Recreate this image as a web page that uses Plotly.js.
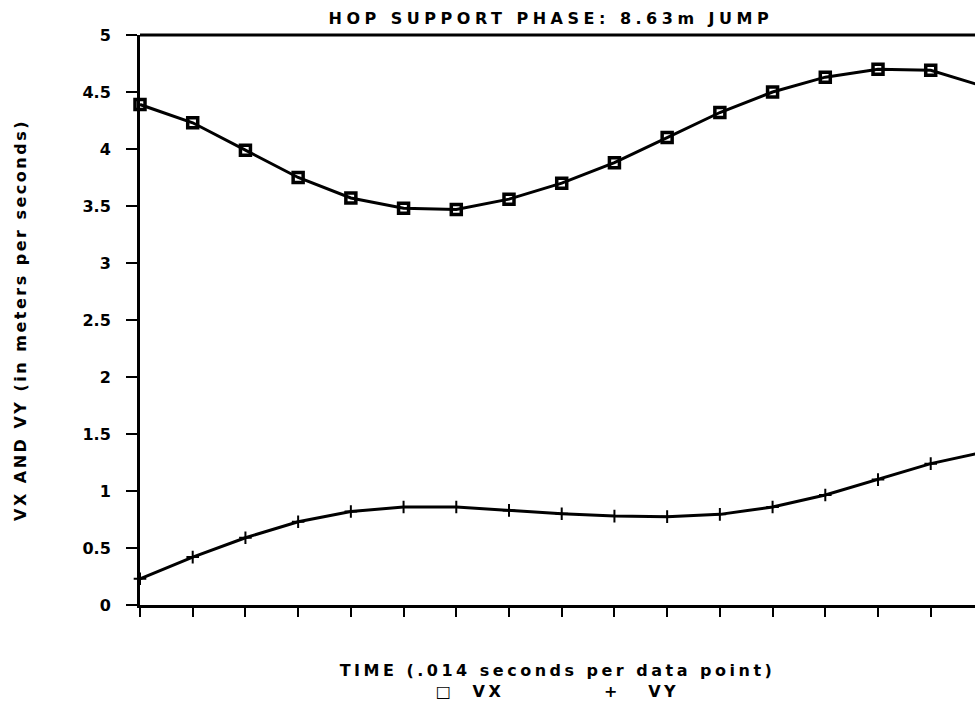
<!DOCTYPE html>
<html>
<head>
<meta charset="utf-8">
<script src="https://cdn.plot.ly/plotly-3.0.1.min.js"></script>
<style>
  html, body { margin: 0; padding: 0; background: #fff; overflow: hidden; }
  #chart { width: 975px; height: 703px; }
  .gtitle { letter-spacing: 4.5px; }
  .g-xtitle text { letter-spacing: 3.5px; }
  .g-ytitle text { letter-spacing: 2.5px; }
</style>
</head>
<body>
<div id="chart"></div>
<script>
// Data point index (each point = .014 s)
const dataPoint = [0, 1, 2, 3, 4, 5, 6, 7, 8, 9, 10, 11, 12, 13, 14, 15, 16];
// Horizontal velocity VX (m/s)
const vx = [4.39, 4.23, 3.99, 3.75, 3.57, 3.48, 3.47, 3.56, 3.70, 3.88, 4.10, 4.32, 4.50, 4.63, 4.70, 4.69, 4.55];
// Vertical velocity VY (m/s)
const vy = [0.23, 0.42, 0.59, 0.73, 0.82, 0.86, 0.86, 0.83, 0.80, 0.78, 0.775, 0.795, 0.86, 0.965, 1.10, 1.24, 1.34];
const yTickVals = [0, 0.5, 1, 1.5, 2, 2.5, 3, 3.5, 4, 4.5, 5];
const yTickText = ['0', '0.5', '1', '1.5', '2', '2.5', '3', '3.5', '4', '4.5', '5'];

const NB = '\u00a0';
const sp = n => NB.repeat(n);

const traces = [
  {
    x: dataPoint, y: vx, name: 'VX', type: 'scatter', mode: 'lines+markers',
    line: { color: '#000', width: 3 },
    marker: { symbol: 'square-open', size: 10, color: '#000', line: { color: '#000', width: 3.5 } },
    cliponaxis: false
  },
  {
    x: dataPoint, y: vy, name: 'VY', type: 'scatter', mode: 'lines+markers',
    line: { color: '#000', width: 3 },
    marker: { symbol: 'cross-thin-open', size: 9, color: '#000', line: { color: '#000', width: 2 } },
    cliponaxis: false
  }
];

const layout = {
  width: 975, height: 703,
  paper_bgcolor: '#fff', plot_bgcolor: '#fff',
  margin: { l: 140, r: 0, t: 35, b: 98 },
  showlegend: false,
  font: { family: 'DejaVu Sans, sans-serif', color: '#000' },
  title: {
    text: 'HOP SUPPORT PHASE: 8.63m JUMP',
    font: { family: 'DejaVu Sans, sans-serif', size: 16, weight: 'bold', color: '#000' },
    xref: 'container', x: 0.565, xanchor: 'center',
    yref: 'container', y: 1 - 18 / 703, yanchor: 'middle'
  },
  xaxis: {
    range: [0, 15.84],
    showgrid: false, zeroline: false,
    showline: true, linecolor: '#000', linewidth: 3,
    ticks: 'outside', tickmode: 'array', tickvals: dataPoint, ticklen: 9, tickwidth: 2, tickcolor: '#000',
    showticklabels: false,
    title: {
      text: sp(2) + 'TIME (.014 seconds per data point)<br>' + '□' + sp(2) + 'VX' + sp(11) + '+' + sp(3) + 'VY' + sp(4),
      font: { family: 'DejaVu Sans, sans-serif', size: 16, weight: 'bold', color: '#000' },
      standoff: 49
    },
    automargin: false
  },
  yaxis: {
    range: [0, 5],
    showgrid: false, zeroline: false,
    showline: true, linecolor: '#000', linewidth: 3,
    ticks: 'outside', tickmode: 'array', tickvals: yTickVals, ticktext: yTickText,
    ticklen: 11, tickwidth: 2, tickcolor: '#000',
    ticklabelstandoff: 12,
    tickfont: { family: 'DejaVu Sans, sans-serif', size: 16, weight: 'bold', color: '#000' },
    title: {
      text: 'VX AND VY (in meters per seconds)',
      font: { family: 'DejaVu Sans, sans-serif', size: 16, weight: 'bold', color: '#000' },
      standoff: 52
    },
    automargin: false
  },
  shapes: [
    { type: 'line', xref: 'paper', yref: 'paper', x0: 0, x1: 1, y0: 1, y1: 1,
      line: { color: '#000', width: 3 } }
  ]
};

Plotly.newPlot('chart', traces, layout, { displayModeBar: false, staticPlot: true });
</script>
</body>
</html>
